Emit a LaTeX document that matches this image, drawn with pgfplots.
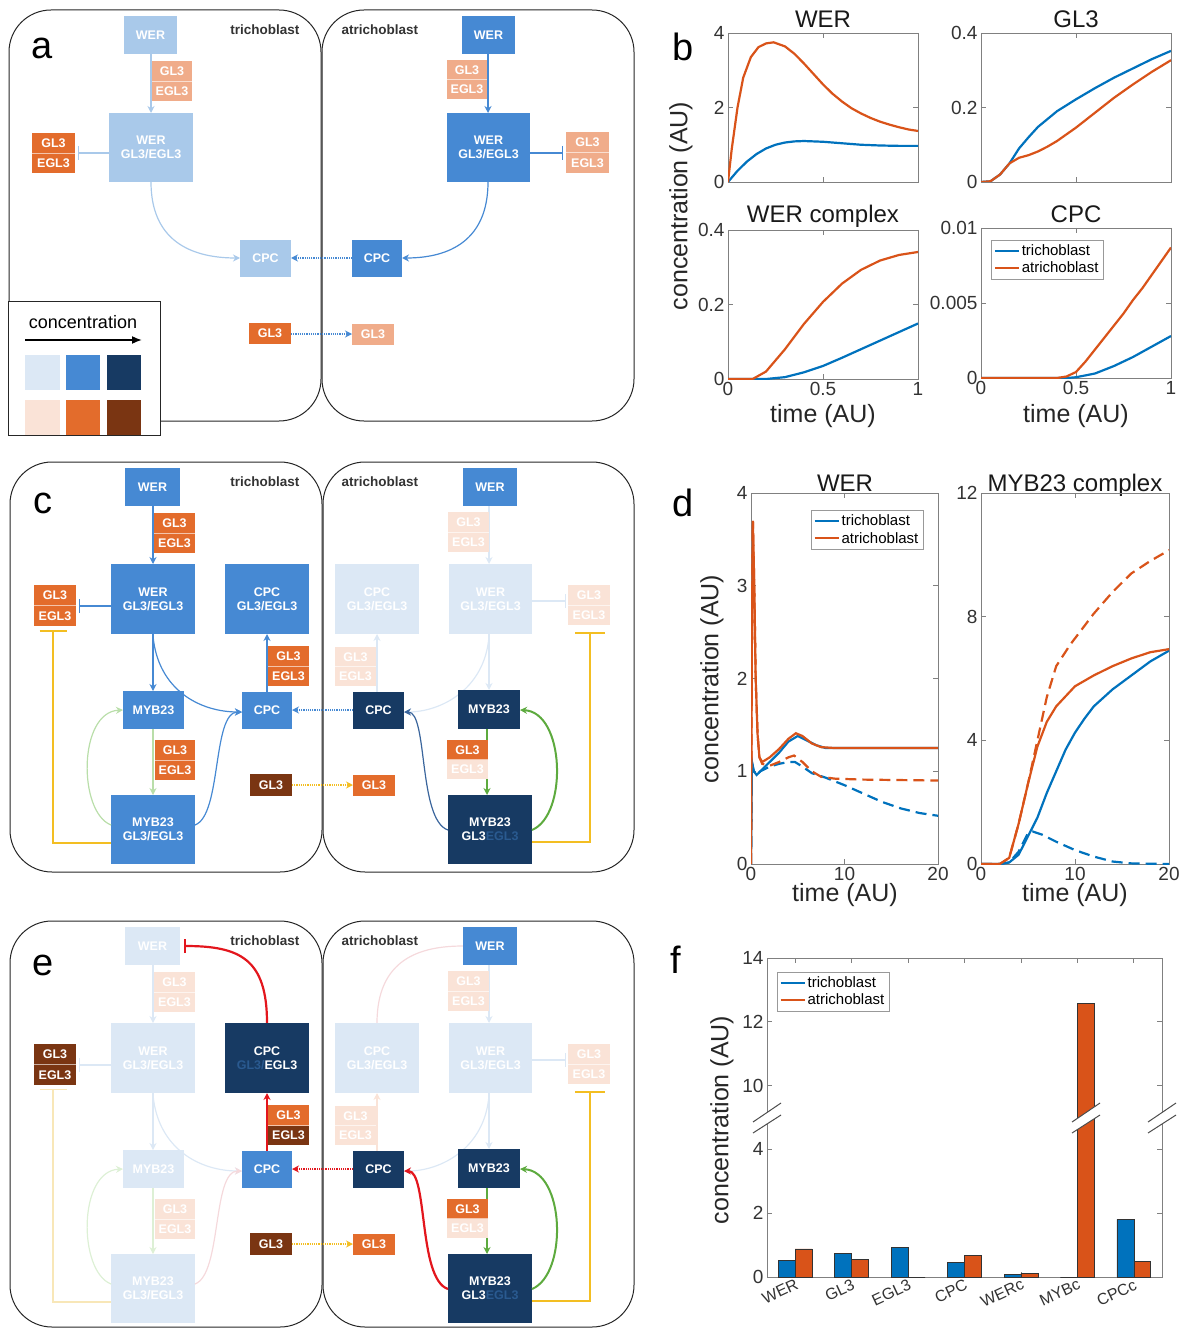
\documentclass[border=0pt]{standalone}
\usepackage{pgfplots}
\pgfplotsset{compat=1.18}
\usepackage{fontspec}
\setmainfont{Liberation Sans}
\usetikzlibrary{arrows.meta}

\definecolor{MB}{HTML}{4689D3}
\definecolor{NAVY}{HTML}{173A63}
\definecolor{LB}{HTML}{A9C9EA}
\definecolor{VLB}{HTML}{DCE8F5}
\definecolor{OR}{HTML}{E36C2C}
\definecolor{LOR}{HTML}{F0AC8A}
\definecolor{VLOR}{HTML}{FAE3D7}
\definecolor{BR}{HTML}{7A3512}
\definecolor{YEL}{HTML}{F3BE22}
\definecolor{LYEL}{HTML}{F8E7B8}
\definecolor{GRN}{HTML}{5DAA3E}
\definecolor{LGRN}{HTML}{B9DEA9}
\definecolor{VLGRN}{HTML}{DDF0D5}
\definecolor{RED}{HTML}{E3161D}
\definecolor{VPINK}{HTML}{F5D9DC}
\definecolor{SB}{HTML}{3A659C}
\definecolor{matblue}{HTML}{0072BD}
\definecolor{matorange}{HTML}{D95319}

\tikzset{
  bt/.style={text=white, font=\fontsize{12.5}{14}\selectfont\bfseries, align=center, inner sep=0pt},
  cell/.style={draw=black!85, line width=1pt, rounded corners=42pt},
  arr/.style={-{Stealth[length=7pt,width=7pt]}, line width=1.2pt},
  inh/.style={-{Bar[width=14pt]}, line width=1.2pt},
  lab/.style={font=\fontsize{13.5}{14}\selectfont\bfseries, text=black!80},
  plet/.style={font=\fontsize{38}{38}\selectfont},
  ttl/.style={font=\fontsize{24}{24}\selectfont, text=black!90, anchor=base},
  axl/.style={font=\fontsize{25}{25}\selectfont, text=black!85},
}
\newcommand{\bx}[6]{\fill[#5] (#1,#2) rectangle (#3,#4); \node[bt] at ({(#1+#3)/2},{(#2+#4)/2}) {#6};}
\newcommand{\gb}[6]{%
  \fill[#5] (#1,#2) rectangle (#3,{(#2+#4)/2});
  \fill[#6] (#1,{(#2+#4)/2}) rectangle (#3,#4);
  \draw[white!60!#5, line width=0.6pt] (#1,{(#2+#4)/2}) -- (#3,{(#2+#4)/2});
  \node[bt] at ({(#1+#3)/2},{(3*#2+#4)/4}) {GL3};
  \node[bt] at ({(#1+#3)/2},{(#2+3*#4)/4}) {EGL3};}
\newcommand{\brk}[1]{%
  \fill[white] (#1-14,1122) -- (#1+14,1103) -- (#1+14,1115) -- (#1-14,1133) -- cycle;
  \draw[black!70, line width=1pt] (#1-14,1122) -- (#1+14,1103);
  \draw[black!70, line width=1pt] (#1-14,1133) -- (#1+14,1115);}

\pgfplotsset{
  mat/.style={scale only axis, axis line style={black!50, line width=0.8pt},
    tick align=inside, major tick length=5pt, tick style={black!50, line width=0.8pt},
    ticklabel style={font=\fontsize{19}{19}\selectfont, text=black!80},
    /pgf/number format/assume math mode=true, scaled ticks=false,
    legend style={draw=black!40, fill=white, font=\fontsize{15}{16}\selectfont,
      inner sep=2.5pt, row sep=1pt, legend cell align=left},
    legend image code/.code={\draw[##1, line width=2pt] (0pt,0pt) -- (24pt,0pt);},
  },
  bl/.style={matblue, line width=2.2pt},
  ol/.style={matorange, line width=2.2pt},
  dsh/.style={dash pattern=on 11pt off 6pt},
}

\begin{document}
\begin{tikzpicture}
\path[use as bounding box] (0,0) rectangle (1183pt,-1329pt);
\begin{scope}[x=1pt,y=-1pt]
%================ panel a =================
\draw[cell] (9,10) rectangle (321,421);
\draw[cell] (322,10) rectangle (634,421);
\node[lab, anchor=east] at (303,30) {trichoblast};
\node[lab, anchor=west] at (338,30) {atrichoblast};
\node[plet] at (42,48) {a};
\draw[arr, LB] (151,54) -- (151,113);
\bx{124}{16}{177}{54}{LB}{WER}
\gb{152}{61}{192}{101}{LOR}{LOR}
\bx{109}{113}{193}{182}{LB}{WER\\GL3/EGL3}
\draw[inh, LB] (109,153) -- (78,153);
\gb{32}{133}{75}{173}{OR}{OR}
\draw[arr, LB] (151,182) .. controls (151,240) and (190,258) .. (240,258);
\bx{240}{240}{291}{277}{LB}{CPC}
\bx{352}{240}{402}{277}{MB}{CPC}
\draw[arr, MB, densely dotted] (352,258) -- (291,258);
\draw[arr, MB] (488,54) -- (488,113);
\bx{462}{16}{515}{54}{MB}{WER}
\gb{447}{60}{487}{99}{LOR}{LOR}
\bx{447}{113}{530}{182}{MB}{WER\\GL3/EGL3}
\draw[inh, MB] (530,153) -- (563,153);
\gb{566}{132}{609}{173}{LOR}{LOR}
\draw[arr, MB] (488,182) .. controls (488,240) and (450,258) .. (402,258);
\bx{249}{323}{291}{344}{OR}{GL3}
\bx{352}{324}{394}{345}{LOR}{GL3}
\draw[arr, MB, densely dotted] (291,334) -- (352,334);
% legend
\draw[fill=white, draw=black!85, line width=1pt] (8,302) rectangle (160,435);
\node[font=\fontsize{18}{18}\selectfont] at (83,322) {concentration};
\draw[-{Latex[length=10pt,width=8pt]}, line width=1.6pt] (25,340) -- (142,340);
\fill[VLB] (25,355) rectangle (60,390);
\fill[MB] (66,355) rectangle (100,390);
\fill[NAVY] (107,355) rectangle (141,390);
\fill[VLOR] (25,400) rectangle (60,435);
\fill[OR] (66,400) rectangle (100,435);
\fill[BR] (107,400) rectangle (141,435);

%================ panel c =================
\draw[cell] (10,462) rectangle (322,872);
\draw[cell] (323,462) rectangle (634,872);
\node[lab, anchor=east] at (303,482) {trichoblast};
\node[lab, anchor=west] at (338,482) {atrichoblast};
\node[plet] at (43,503) {c};
% left
\draw[arr,MB] (153,506) -- (153,564);
\bx{125}{468}{180}{506}{MB}{WER}
\gb{154}{513}{195}{553}{OR}{OR}
\draw[YEL, line width=1.8pt, -{Bar[width=27pt]}] (111,843) -- (53,843) -- (53,630);
\bx{111}{564}{195}{634}{MB}{WER\\GL3/EGL3}
\draw[inh,MB] (111,606) -- (79,606);
\gb{34}{585}{76}{626}{OR}{OR}
\draw[arr,MB] (267,692) -- (267,634);
\bx{225}{564}{309}{634}{MB}{CPC\\GL3/EGL3}
\gb{268}{646}{309}{686}{OR}{OR}
\draw[arr,MB] (153,634) -- (153,691);
\draw[arr,MB] (153,636) .. controls (158,690) and (200,712) .. (242,712);
\bx{123}{691}{184}{729}{MB}{MYB23}
\bx{242}{692}{292}{729}{MB}{CPC}
\draw[arr,LGRN] (153,729) -- (153,795);
\gb{155}{740}{195}{780}{OR}{OR}
\bx{111}{795}{195}{864}{MB}{MYB23\\GL3/EGL3}
\draw[arr,LGRN] (111,825) .. controls (78,812) and (78,712) .. (123,710);
\draw[arr,MB] (195,825) .. controls (222,815) and (212,712) .. (242,712);
\draw[arr,YEL,densely dotted,line width=2pt] (292,785) -- (353,785);
\bx{250}{774}{292}{796}{BR}{GL3}
\bx{353}{775}{395}{796}{OR}{GL3}
\draw[arr,MB,densely dotted,line width=1.5pt] (353,710) -- (292,710);
% right
\draw[arr,VLB] (489,506) -- (489,564);
\bx{463}{468}{517}{506}{MB}{WER}
\gb{448}{512}{489}{552}{VLOR}{VLOR}
\bx{335}{564}{419}{634}{VLB}{CPC\\GL3/EGL3}
\bx{449}{564}{532}{634}{VLB}{WER\\GL3/EGL3}
\draw[inh,VLB] (532,601) -- (566,601);
\gb{568}{585}{610}{625}{VLOR}{VLOR}
\draw[YEL, line width=1.8pt, -{Bar[width=30pt]}] (532,842) -- (590,842) -- (590,632);
\draw[arr,VLB] (377,692) -- (377,634);
\gb{335}{647}{376}{686}{VLOR}{VLOR}
\draw[arr,VLB] (489,634) -- (489,690);
\draw[arr,VLB] (489,636) .. controls (485,690) and (440,712) .. (404,712);
\bx{353}{692}{404}{729}{NAVY}{CPC}
\bx{458}{690}{520}{729}{NAVY}{MYB23}
\draw[arr,GRN,line width=2pt] (487,729) -- (487,795);
\gb{447}{740}{488}{779}{OR}{VLOR}
\bx{448}{795}{532}{864}{NAVY}{MYB23\\GL3{\color{MB!40!NAVY}EGL3}}
\draw[arr,GRN,line width=2pt] (532,830) .. controls (568,815) and (565,712) .. (520,710);
\draw[arr,SB] (448,830) .. controls (418,820) and (428,712) .. (404,712);

%================ panel e =================
\begin{scope}[shift={(0,459)}]
\draw[cell] (10,462) rectangle (322,868);
\draw[cell] (323,462) rectangle (634,868);
\node[lab, anchor=east] at (303,482) {trichoblast};
\node[lab, anchor=west] at (338,482) {atrichoblast};
\node[plet] at (43,506) {e};
% left
\draw[arr,VLB] (153,506) -- (153,564);
\bx{125}{468}{180}{506}{VLB}{WER}
\gb{154}{513}{195}{553}{VLOR}{VLOR}
\draw[LYEL, line width=1.2pt, -{Bar[width=27pt]}] (111,843) -- (53,843) -- (53,630);
\bx{111}{564}{195}{634}{VLB}{WER\\GL3/EGL3}
\draw[inh,VLB] (111,606) -- (79,606);
\gb{34}{585}{76}{626}{BR}{BR}
\draw[inh,RED,line width=2.2pt] (267,564) .. controls (267,500) and (240,487) .. (184,487);
\draw[arr,RED,line width=2.2pt] (267,692) -- (267,634);
\bx{225}{564}{309}{634}{NAVY}{CPC\\{\color{MB!40!NAVY}GL3/}EGL3}
\gb{268}{646}{309}{686}{OR}{BR}
\draw[arr,VLB] (153,634) -- (153,691);
\draw[arr,VLB] (153,636) .. controls (158,690) and (200,712) .. (242,712);
\bx{123}{691}{184}{729}{VLB}{MYB23}
\bx{242}{692}{292}{729}{MB}{CPC}
\draw[arr,VLGRN] (153,729) -- (153,795);
\gb{155}{740}{195}{780}{VLOR}{VLOR}
\bx{111}{795}{195}{864}{VLB}{MYB23\\GL3/EGL3}
\draw[arr,VLGRN] (111,825) .. controls (78,812) and (78,712) .. (123,710);
\draw[arr,VPINK] (195,825) .. controls (222,815) and (212,712) .. (242,712);
\draw[arr,YEL,densely dotted,line width=2pt] (292,785) -- (353,785);
\bx{250}{774}{292}{796}{BR}{GL3}
\bx{353}{775}{395}{796}{OR}{GL3}
\draw[arr,RED,densely dotted,line width=2.2pt] (353,710) -- (292,710);
% right
\draw[VPINK, line width=1.2pt] (377,564) .. controls (377,500) and (420,487) .. (463,487);
\draw[arr,VLB] (489,506) -- (489,564);
\bx{463}{468}{517}{506}{MB}{WER}
\gb{448}{512}{489}{552}{VLOR}{VLOR}
\bx{335}{564}{419}{634}{VLB}{CPC\\GL3/EGL3}
\bx{449}{564}{532}{634}{VLB}{WER\\GL3/EGL3}
\draw[inh,VLB] (532,601) -- (566,601);
\gb{568}{585}{610}{625}{VLOR}{VLOR}
\draw[YEL, line width=1.8pt, -{Bar[width=30pt]}] (532,842) -- (590,842) -- (590,632);
\draw[arr,VLOR] (377,692) -- (377,634);
\gb{335}{647}{376}{686}{VLOR}{VLOR}
\draw[arr,VLB] (489,634) -- (489,690);
\draw[arr,VLB] (489,636) .. controls (485,690) and (440,712) .. (404,712);
\bx{353}{692}{404}{729}{NAVY}{CPC}
\bx{458}{690}{520}{729}{NAVY}{MYB23}
\draw[arr,GRN,line width=2pt] (487,729) -- (487,795);
\gb{447}{740}{488}{779}{OR}{VLOR}
\bx{448}{795}{532}{864}{NAVY}{MYB23\\GL3{\color{MB!40!NAVY}EGL3}}
\draw[arr,GRN,line width=2pt] (532,830) .. controls (568,815) and (565,712) .. (520,710);
\draw[arr,RED,line width=2.2pt] (448,830) .. controls (418,820) and (428,712) .. (404,712);
\end{scope}

%================ plot texts =================
\node[plet] at (683,47) {b};
\node[plet] at (683,503) {d};
\node[plet] at (676,960) {f};
\node[ttl] at (823,28) {WER};
\node[ttl] at (1076,28) {GL3};
\node[ttl] at (823,223) {WER complex};
\node[ttl] at (1076,223) {CPC};
\node[ttl] at (845,491) {WER};
\node[ttl] at (1075,491) {MYB23 complex};
\node[axl, anchor=base] at (823,422) {time (AU)};
\node[axl, anchor=base] at (1076,422) {time (AU)};
\node[axl, anchor=base] at (845,901) {time (AU)};
\node[axl, anchor=base] at (1075,901) {time (AU)};
\node[axl, rotate=90] at (681,206) {concentration (AU)};
\node[axl, rotate=90] at (712,679) {concentration (AU)};
\node[axl, rotate=90] at (722,1120) {concentration (AU)};
\end{scope}

%================ b: WER =================
\begin{axis}[mat, at={(728pt,-182pt)}, anchor=south west, width=190pt, height=149pt,
  xmin=0, xmax=1, ymin=0, ymax=4, xtick={0,0.5,1}, xticklabels={}, ytick={0,2,4}]
\addplot[bl] coordinates {(0,0)(0.05,0.3)(0.1,0.55)(0.15,0.75)(0.2,0.9)(0.25,1.0)(0.3,1.06)(0.35,1.09)(0.4,1.1)(0.5,1.08)(0.6,1.04)(0.7,1.0)(0.8,0.98)(0.9,0.97)(1,0.97)};
\addplot[ol] coordinates {(0,0)(0.02,0.9)(0.05,2.0)(0.08,2.8)(0.12,3.35)(0.16,3.62)(0.2,3.72)(0.24,3.75)(0.3,3.64)(0.35,3.44)(0.4,3.18)(0.45,2.9)(0.5,2.62)(0.55,2.37)(0.6,2.16)(0.65,1.98)(0.7,1.84)(0.75,1.72)(0.8,1.62)(0.85,1.54)(0.9,1.47)(0.95,1.41)(1,1.37)};
\end{axis}
%================ b: GL3 =================
\begin{axis}[mat, at={(981pt,-182pt)}, anchor=south west, width=190pt, height=149pt,
  xmin=0, xmax=1, ymin=0, ymax=0.4, xtick={0,0.5,1}, xticklabels={}, ytick={0,0.2,0.4}]
\addplot[bl] coordinates {(0,0)(0.05,0.002)(0.1,0.02)(0.15,0.05)(0.2,0.09)(0.25,0.12)(0.3,0.148)(0.4,0.19)(0.5,0.222)(0.6,0.252)(0.7,0.28)(0.8,0.305)(0.9,0.33)(1,0.352)};
\addplot[ol] coordinates {(0,0)(0.05,0.002)(0.1,0.02)(0.15,0.05)(0.2,0.065)(0.25,0.072)(0.3,0.082)(0.35,0.095)(0.4,0.11)(0.5,0.146)(0.6,0.186)(0.7,0.226)(0.8,0.262)(0.9,0.296)(1,0.327)};
\end{axis}
%================ b: WER complex =================
\begin{axis}[mat, at={(728pt,-379pt)}, anchor=south west, width=190pt, height=149pt,
  xmin=0, xmax=1, ymin=0, ymax=0.4, xtick={0,0.5,1}, ytick={0,0.2,0.4}]
\addplot[bl] coordinates {(0,0)(0.2,0)(0.3,0.005)(0.4,0.018)(0.5,0.035)(0.6,0.057)(0.7,0.08)(0.8,0.103)(0.9,0.126)(1,0.149)};
\addplot[ol] coordinates {(0,0)(0.13,0)(0.2,0.02)(0.3,0.08)(0.4,0.148)(0.5,0.207)(0.6,0.256)(0.7,0.293)(0.8,0.318)(0.9,0.333)(1,0.341)};
\end{axis}
%================ b: CPC =================
\begin{axis}[mat, at={(981pt,-378pt)}, anchor=south west, width=190pt, height=150pt,
  xmin=0, xmax=1, ymin=0, ymax=0.01, xtick={0,0.5,1}, ytick={0,0.005,0.01}, yticklabels={0,0.005,0.01},
  legend style={at={(0.053,0.92)}, anchor=north west}]
\addplot[bl] coordinates {(0,0)(0.45,0)(0.5,0.00005)(0.6,0.0003)(0.7,0.0008)(0.8,0.0014)(0.9,0.0021)(1,0.0028)};
\addlegendentry{trichoblast}
\addplot[ol] coordinates {(0,0)(0.4,0)(0.45,0.0001)(0.5,0.0004)(0.55,0.0011)(0.6,0.0019)(0.65,0.0027)(0.7,0.0035)(0.75,0.0043)(0.8,0.0052)(0.85,0.006)(0.9,0.0069)(0.95,0.0078)(1,0.0087)};
\addlegendentry{atrichoblast}
\end{axis}
%================ d: WER =================
\begin{axis}[mat, at={(751pt,-864pt)}, anchor=south west, width=187pt, height=371pt,
  xmin=0, xmax=20, ymin=0, ymax=4, xtick={0,10,20}, ytick={0,1,2,3,4},
  legend style={at={(0.92,0.954)}, anchor=north east}]
\addplot[bl, dsh, forget plot] coordinates {(0,0)(0.1,1.1)(0.3,1.0)(0.6,0.96)(1,1.0)(2,1.05)(3,1.08)(4,1.1)(4.7,1.1)(5.5,1.05)(6.5,0.98)(8,0.93)(10,0.85)(12,0.76)(14,0.67)(16,0.6)(18,0.55)(20,0.52)};
\addplot[ol, dsh, forget plot] coordinates {(0,0)(0.1,2.5)(0.2,3.7)(0.35,3.0)(0.5,2.0)(0.7,1.4)(0.9,1.15)(1.2,1.08)(2,1.06)(3,1.1)(4,1.15)(4.6,1.17)(5.5,1.1)(6.5,1.0)(7.5,0.94)(9,0.92)(12,0.91)(20,0.9)};
\addplot[bl] coordinates {(0,0)(0.1,1.1)(0.3,1.0)(0.6,0.96)(1,1.0)(2,1.1)(3,1.2)(4,1.32)(5,1.38)(6,1.33)(7,1.28)(8,1.25)(10,1.25)(20,1.25)};
\addlegendentry{trichoblast}
\addplot[ol] coordinates {(0,0)(0.1,2.5)(0.2,3.7)(0.35,3.0)(0.5,2.0)(0.7,1.4)(0.9,1.15)(1.2,1.1)(2,1.15)(3,1.24)(4,1.35)(4.8,1.41)(5.5,1.38)(6.5,1.3)(7.5,1.26)(9,1.25)(20,1.25)};
\addlegendentry{atrichoblast}
\end{axis}
%================ d: MYB23 complex =================
\begin{axis}[mat, at={(981pt,-864pt)}, anchor=south west, width=188pt, height=371pt,
  xmin=0, xmax=20, ymin=0, ymax=12, xtick={0,10,20}, ytick={0,4,8,12}]
\addplot[bl, dsh] coordinates {(0,0)(2,0)(3,0.05)(4,0.4)(5,1.0)(5.5,1.05)(6.5,0.95)(8,0.72)(10,0.45)(12,0.24)(14,0.08)(16,0.02)(20,0)};
\addplot[ol, dsh] coordinates {(0,0)(2,0)(3,0.2)(4,1.3)(5,2.6)(6,4.0)(7,5.4)(8,6.4)(9.5,7.1)(12,8.1)(14,8.8)(16,9.4)(18,9.8)(20,10.15)};
\addplot[bl] coordinates {(0,0)(2,0)(3,0.05)(4,0.3)(5,0.9)(6,1.5)(7,2.3)(8,3.0)(9,3.7)(10,4.25)(11,4.7)(12,5.1)(14,5.65)(16,6.1)(18,6.55)(20,6.9)};
\addplot[ol] coordinates {(0,0)(2,0)(3,0.2)(4,1.3)(5,2.6)(6,3.8)(7,4.6)(8,5.1)(10,5.75)(12,6.1)(14,6.4)(16,6.65)(18,6.85)(20,6.95)};
\end{axis}
%================ f: bars =================
\begin{axis}[mat, at={(767pt,-1277pt)}, anchor=south west, width=395pt, height=319pt,
  xmin=0.5, xmax=7.5, ymin=0, ymax=10, xtick={1,2,3,4,5,6,7},
  xticklabels={WER,GL3,EGL3,CPC,WERc,MYBc,CPCc},
  x tick label style={rotate=25, anchor=north east, inner sep=1pt, font=\fontsize{16}{16}\selectfont},
  ytick={0,2,4,6,8,10}, yticklabels={0,2,4,10,12,14},
  legend style={at={(0.025,0.956)}, anchor=north west}]
\addplot[ybar, bar width=0.3, bar shift=-0.15, fill=matblue, draw=black!80, line width=0.6pt, forget plot,
  y filter/.expression={y>7 ? y-4 : y}] coordinates {(1,0.51)(2,0.74)(3,0.92)(4,0.45)(5,0.09)(6,0)(7,1.81)};
\addplot[ybar, bar width=0.3, bar shift=0.15, fill=matorange, draw=black!80, line width=0.6pt, forget plot,
  y filter/.expression={y>7 ? y-4 : y}] coordinates {(1,0.88)(2,0.56)(3,0)(4,0.68)(5,0.12)(6,12.58)(7,0.5)};
\addlegendimage{matblue, line width=2pt}
\addlegendentry{trichoblast}
\addlegendimage{matorange, line width=2pt}
\addlegendentry{atrichoblast}
\end{axis}
\begin{scope}[x=1pt,y=-1pt]
\brk{767}
\brk{1086}
\brk{1162}
\end{scope}
\end{tikzpicture}
\end{document}
